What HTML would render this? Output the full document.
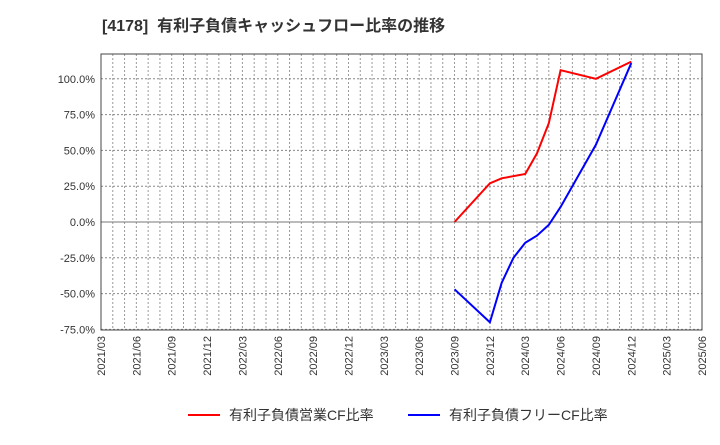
<!DOCTYPE html>
<html><head><meta charset="utf-8"><style>
body{margin:0;background:#fff;width:720px;height:440px;overflow:hidden;font-family:"Liberation Sans","Noto Sans CJK JP",sans-serif}
</style></head><body>
<svg id="c" width="720" height="440" xmlns="http://www.w3.org/2000/svg">
<text x="102" y="31" font-size="16" font-weight="bold" fill="#333" font-family="Liberation Sans,Noto Sans CJK JP,sans-serif">[4178]&#160;&#160;有利子負債キャッシュフロー比率の推移</text>
</svg>
<script>
const xTickLabels=["2021/03","2021/06","2021/09","2021/12","2022/03","2022/06","2022/09","2022/12","2023/03","2023/06","2023/09","2023/12","2024/03","2024/06","2024/09","2024/12","2025/03","2025/06"];
const yTicks=[-75,-50,-25,0,25,50,75,100];
const redMonths=["2023/09","2023/12","2024/01","2024/03","2024/04","2024/05","2024/06","2024/09","2024/12"];
const redValues=[0,27,30.5,33.5,48,69,106,100,112];
const blueMonths=["2023/09","2023/12","2024/01","2024/02","2024/03","2024/04","2024/05","2024/06","2024/09","2024/12"];
const blueValues=[-47,-70,-42.5,-25,-14.5,-9.5,-2,10.5,54,111];
const NS="http://www.w3.org/2000/svg",svg=document.getElementById('c');
const L=101,R=702,T=54,B=330;
const monthIdx=s=>{const[y,m]=s.split('/').map(Number);return (y-2021)*12+(m-3);};
const totalM=monthIdx("2025/06");
const xs=s=>L+(R-L)*monthIdx(s)/totalM;
const ys=v=>222-v*(35.8/25);
function mk(t,a,p){const e=document.createElementNS(NS,t);for(const k in a)e.setAttribute(k,a[k]);(p||svg).appendChild(e);return e;}
const grid=mk('g',{});


for(let m=1;m<totalM;m++){const x=L+(R-L)*m/totalM;mk('line',{x1:x,x2:x,y1:T,y2:B,stroke:'#999','stroke-dasharray':'2,2','stroke-width':1},grid);}
yTicks.forEach(v=>{const y=ys(v);mk('line',{x1:L,x2:R,y1:y,y2:y,stroke:v===0?'#777':'#888','stroke-dasharray':v===0?'':'2,2','stroke-width':1},grid);
const t=mk('text',{x:L-6,y:y+4,'text-anchor':'end','font-size':11,fill:'#333'});t.textContent=v.toFixed(1)+'%';

});
mk('rect',{x:L,y:T,width:R-L,height:B-T,fill:'none',stroke:'#444','stroke-width':1});
xTickLabels.forEach(s=>{const x=xs(s);const t=mk('text',{x:x+4,y:B+6,'text-anchor':'end','font-size':11,fill:'#333',transform:`rotate(-90 ${x+4} ${B+6})`});t.textContent=s;

});
function series(ms,vs,col,name){const p=mk('polyline',{points:ms.map((m,i)=>xs(m)+','+ys(vs[i])).join(' '),fill:'none',stroke:col,'stroke-width':2});

}
series(redMonths,redValues,'#f00','operating-cf-ratio-line');
series(blueMonths,blueValues,'#00f','free-cf-ratio-line');
function leg(x,col,label,name){const g=mk('g',{});


mk('line',{x1:x,x2:x+32,y1:415,y2:415,stroke:col,'stroke-width':2},g);
const t=mk('text',{x:x+41,y:420,'font-size':14,fill:'#333'},g);t.textContent=label;}
leg(188,'#f00','有利子負債営業CF比率','legend-operating-cf');
leg(408,'#00f','有利子負債フリーCF比率','legend-free-cf');
</script>
</body></html>
